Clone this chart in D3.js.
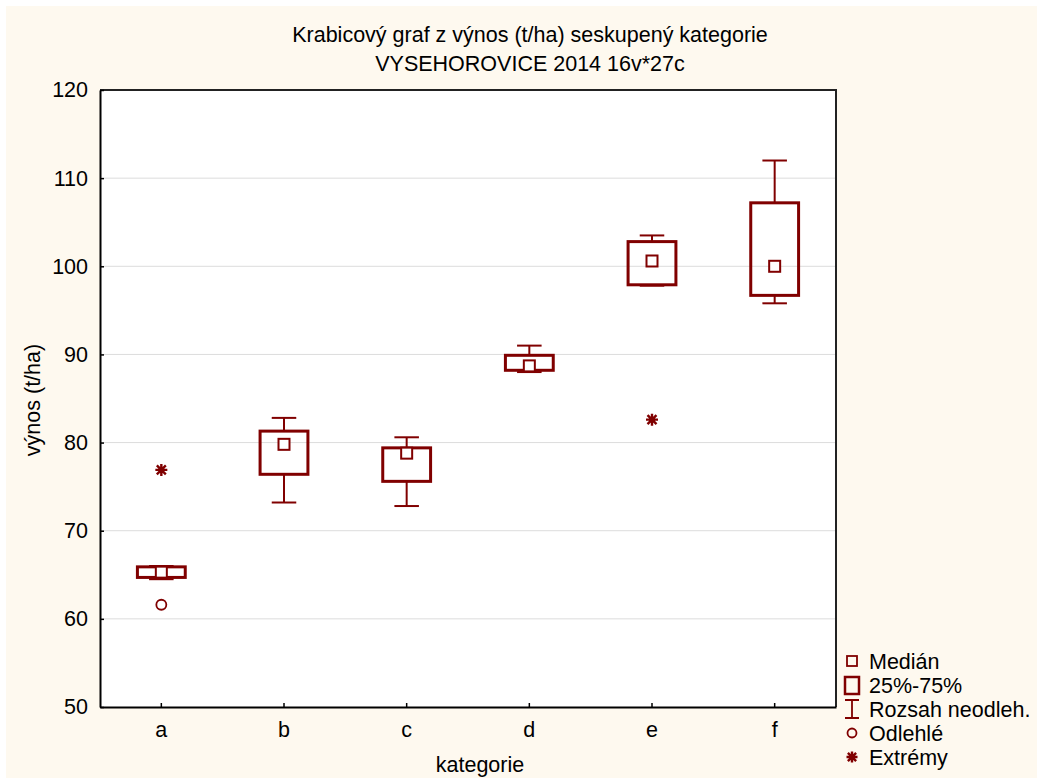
<!DOCTYPE html>
<html>
<head>
<meta charset="utf-8">
<script src="https://cdn.jsdelivr.net/npm/d3@7"></script>
<style>
  body { margin: 0; background: #fff; }
  svg { display: block; font-family: "Liberation Sans", Arial, sans-serif; }
</style>
</head>
<body>
<svg id="chart" width="1037" height="778"></svg>
<script>
// data
const categories = ['a', 'b', 'c', 'd', 'e', 'f'];
const q1 = [64.7, 76.4, 75.6, 88.2, 97.9, 96.7];
const q3 = [65.9, 81.3, 79.4, 89.9, 102.8, 107.2];
const medians = [65.3, 79.8, 78.8, 88.7, 100.6, 100.0];
const whiskerLow = [64.5, 73.2, 72.8, 88.0, 97.8, 95.8];
const whiskerHigh = [66.0, 82.8, 80.6, 91.0, 103.5, 112.0];
const outliers = [{ cat: 'a', v: 61.6 }];
const extremes = [{ cat: 'a', v: 76.9 }, { cat: 'e', v: 82.6 }];
const yTicks = [50, 60, 70, 80, 90, 100, 110, 120];
const legendItems = ['Medián', '25%-75%', 'Rozsah neodleh.', 'Odlehlé', 'Extrémy'];

const red = '#800000';
const fs = '21.5px';
const svg = d3.select('#chart');

svg.append('rect')
    .attr('x', 6).attr('y', 6)
    .attr('width', 1031).attr('height', 772)
    .attr('fill', '#fef9ef');

const plotL = 100, plotR = 836, plotT = 90, plotB = 707;

const x = d3.scaleBand().domain(categories).range([plotL, plotR]).padding(0);
const y = d3.scaleLinear().domain([50, 120]).range([plotB, plotT]);

svg.append('rect')
    .attr('x', plotL).attr('y', plotT)
    .attr('width', plotR - plotL).attr('height', plotB - plotT)
    .attr('fill', '#fff');

// grid
svg.append('g')
    .selectAll('line')
    .data(yTicks.slice(1, -1))
    .join('line')
    .attr('x1', plotL).attr('x2', plotR)
    .attr('y1', d => y(d)).attr('y2', d => y(d))
    .attr('stroke', '#dcdcdc')
    .attr('stroke-width', 1);

// frame top / right
svg.append('path')
    .attr('d', `M${plotL},${plotT}H${plotR}V${plotB}`)
    .attr('fill', 'none')
    .attr('stroke', '#222')
    .attr('stroke-width', 2);

// axes
const yAxis = svg.append('g')
    .attr('transform', `translate(${plotL},0)`)
    .call(d3.axisLeft(y).tickValues(yTicks).tickSizeInner(-4).tickSizeOuter(0).tickPadding(12));
const xAxis = svg.append('g')
    .attr('transform', `translate(0,${plotB})`)
    .call(d3.axisBottom(x).tickSizeInner(-4).tickSizeOuter(0).tickPadding(15));

[yAxis, xAxis].forEach(g => {
    g.select('.domain').attr('stroke', '#000').attr('stroke-width', 2);
    g.selectAll('.tick line').attr('stroke', '#000').attr('stroke-width', 1.5);
    g.selectAll('.tick text')
        .attr('fill', '#000')
        .style('font-size', fs)
        .style('font-family', '"Liberation Sans", Arial, sans-serif');
});

// boxes
const boxW = x.bandwidth() * 0.39;
const capW = x.bandwidth() * 0.2;
const cx = i => x(categories[i]) + x.bandwidth() / 2;

const boxes = svg.append('g').selectAll('g')
    .data(categories.map((c, i) => i))
    .join('g');

boxes.append('line')
    .attr('x1', cx).attr('x2', cx)
    .attr('y1', i => y(whiskerHigh[i])).attr('y2', i => y(q3[i]))
    .attr('stroke', red).attr('stroke-width', 2);
boxes.append('line')
    .attr('x1', cx).attr('x2', cx)
    .attr('y1', i => y(q1[i])).attr('y2', i => y(whiskerLow[i]))
    .attr('stroke', red).attr('stroke-width', 2);
boxes.append('line')
    .attr('x1', i => cx(i) - capW / 2).attr('x2', i => cx(i) + capW / 2)
    .attr('y1', i => y(whiskerHigh[i])).attr('y2', i => y(whiskerHigh[i]))
    .attr('stroke', red).attr('stroke-width', 2);
boxes.append('line')
    .attr('x1', i => cx(i) - capW / 2).attr('x2', i => cx(i) + capW / 2)
    .attr('y1', i => y(whiskerLow[i])).attr('y2', i => y(whiskerLow[i]))
    .attr('stroke', red).attr('stroke-width', 2);
boxes.append('rect')
    .attr('x', i => cx(i) - boxW / 2)
    .attr('y', i => y(q3[i]))
    .attr('width', boxW)
    .attr('height', i => y(q1[i]) - y(q3[i]))
    .attr('fill', 'none')
    .attr('stroke', red).attr('stroke-width', 3);
boxes.append('rect')
    .attr('x', i => cx(i) - 5.5)
    .attr('y', i => y(medians[i]) - 5.5)
    .attr('width', 11).attr('height', 11)
    .attr('fill', '#fff')
    .attr('stroke', red).attr('stroke-width', 2);

// outliers and extremes
svg.append('g').selectAll('circle')
    .data(outliers)
    .join('circle')
    .attr('cx', d => x(d.cat) + x.bandwidth() / 2)
    .attr('cy', d => y(d.v))
    .attr('r', 5)
    .attr('fill', 'none')
    .attr('stroke', red).attr('stroke-width', 1.8);

function asterisk(g, px, py, r) {
    const a = r * 0.75;
    g.append('path')
        .attr('d', `M${px - r},${py}H${px + r}M${px},${py - r}V${py + r}` +
            `M${px - a},${py - a}L${px + a},${py + a}M${px - a},${py + a}L${px + a},${py - a}`)
        .attr('stroke', red).attr('stroke-width', 2.4).attr('fill', 'none');
}
const extG = svg.append('g');
extremes.forEach(d => asterisk(extG, x(d.cat) + x.bandwidth() / 2, y(d.v), 6));

// titles
svg.append('text')
    .attr('x', 530).attr('y', 42)
    .attr('text-anchor', 'middle')
    .style('font-size', fs)
    .text('Krabicový graf z výnos (t/ha) seskupený kategorie');
svg.append('text')
    .attr('x', 530).attr('y', 71)
    .attr('text-anchor', 'middle')
    .style('font-size', fs)
    .text('VYSEHOROVICE 2014 16v*27c');

svg.append('text')
    .attr('transform', `translate(40,400) rotate(-90)`)
    .attr('text-anchor', 'middle')
    .style('font-size', fs)
    .text('výnos (t/ha)');
svg.append('text')
    .attr('x', 480).attr('y', 772)
    .attr('text-anchor', 'middle')
    .style('font-size', fs)
    .text('kategorie');

// legend
const lg = svg.append('g');
const ly = i => 661 + i * 24;
const lx = 852;
lg.selectAll('text')
    .data(legendItems)
    .join('text')
    .attr('x', 869)
    .attr('y', (d, i) => ly(i))
    .attr('dy', '0.35em')
    .style('font-size', fs)
    .text(d => d);

lg.append('rect')
    .attr('x', lx - 5).attr('y', ly(0) - 5)
    .attr('width', 10).attr('height', 10)
    .attr('fill', 'none').attr('stroke', red).attr('stroke-width', 1.8);
lg.append('rect')
    .attr('x', lx - 7).attr('y', ly(1) - 8)
    .attr('width', 14).attr('height', 17)
    .attr('fill', 'none').attr('stroke', red).attr('stroke-width', 2.5);
lg.append('path')
    .attr('d', `M${lx - 7},${ly(2) - 9}H${lx + 7}M${lx},${ly(2) - 9}V${ly(2) + 9}M${lx - 7},${ly(2) + 9}H${lx + 7}`)
    .attr('fill', 'none').attr('stroke', red).attr('stroke-width', 1.8);
lg.append('circle')
    .attr('cx', lx).attr('cy', ly(3))
    .attr('r', 4.5)
    .attr('fill', 'none').attr('stroke', red).attr('stroke-width', 1.8);
asterisk(lg, lx, ly(4), 5.5);
</script>
</body>
</html>
